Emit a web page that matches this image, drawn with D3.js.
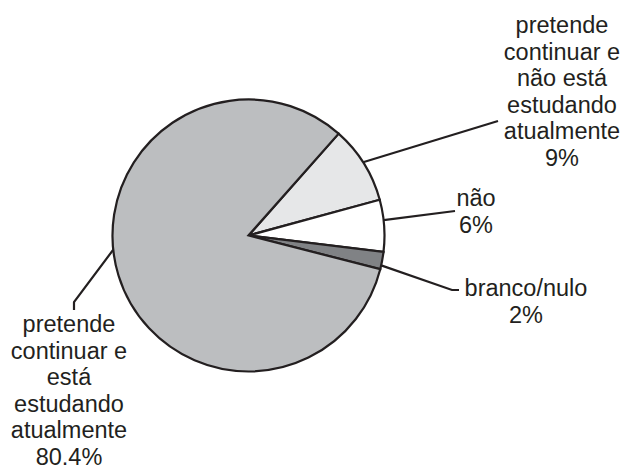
<!DOCTYPE html>
<html>
<head>
<meta charset="utf-8">
<script src="https://cdn.jsdelivr.net/npm/d3@7"></script>
<style>
  html, body { margin: 0; padding: 0; background: #ffffff; }
  svg { display: block; }
  text { font-family: "Liberation Sans", Arial, Helvetica, sans-serif; fill: #231f20; }
</style>
</head>
<body>
<svg id="chart" width="624" height="468"></svg>
<script>
// Slice data, clockwise starting just right of 12 o'clock
const categories = [
  "pretende continuar e não está estudando atualmente",
  "não",
  "branco/nulo",
  "pretende continuar e está estudando atualmente"
];
const values = [9, 6, 2, 80.4];
const valueLabels = ["9%", "6%", "2%", "80.4%"];
const labelLines = [
  ["pretende", "continuar e", "não está", "estudando", "atualmente"],
  ["não"],
  ["branco/nulo"],
  ["pretende", "continuar e", "está", "estudando", "atualmente"]
];
const fills = ["#e6e7e8", "#ffffff", "#808285", "#bcbec0"];

// Layout
const width = 624, height = 468;
const cx = 248.5, cy = 235.5, radius = 136;
const deg = Math.PI / 180;
const startAngle = 41.5 * deg;
const fontSize = 23.5, lineStep = 26.5;

// Label placement: text block centre/first baseline, leader attach angle on the rim, leader path after the rim
const labelLayout = [
  { x: 562, y: 33.3, attach: 57.4, path: [[498, 121]] },
  { x: 476, y: 206,  attach: 83.5, path: [[455, 211]] },
  { x: 526, y: 296,  attach: 102.7, path: [[452, 290], [459, 290]] },
  { x: 69,  y: 332, attach: 264, path: [[74, 302], [74, 310]] }
];

const svg = d3.select("#chart");

const pie = d3.pie()
  .sort(null)
  .value(d => d)
  .startAngle(startAngle)
  .endAngle(startAngle + 2 * Math.PI);

const arc = d3.arc().innerRadius(0).outerRadius(radius);

const g = svg.append("g").attr("transform", `translate(${cx},${cy})`);

g.selectAll("path.slice")
  .data(pie(values))
  .join("path")
  .attr("class", "slice")
  .attr("d", arc)
  .attr("fill", (d, i) => fills[i])
  .attr("stroke", "#231f20")
  .attr("stroke-width", 2.2)
  .attr("stroke-linejoin", "miter");

// Leader lines
const line = d3.line();
labelLayout.forEach((L, i) => {
  const a = L.attach * deg;
  const rim = [cx + radius * Math.sin(a), cy - radius * Math.cos(a)];
  svg.append("path")
    .attr("d", line([rim, ...L.path]))
    .attr("fill", "none")
    .attr("stroke", "#231f20")
    .attr("stroke-width", 2.2);
});

// Labels
labelLayout.forEach((L, i) => {
  const lines = labelLines[i].concat([valueLabels[i]]);
  const t = svg.append("text")
    .attr("text-anchor", "middle")
    .attr("font-size", fontSize);
  lines.forEach((s, k) => {
    t.append("tspan")
      .attr("x", L.x)
      .attr("y", L.y + k * lineStep)
      .text(s);
  });
});
</script>
</body>
</html>
